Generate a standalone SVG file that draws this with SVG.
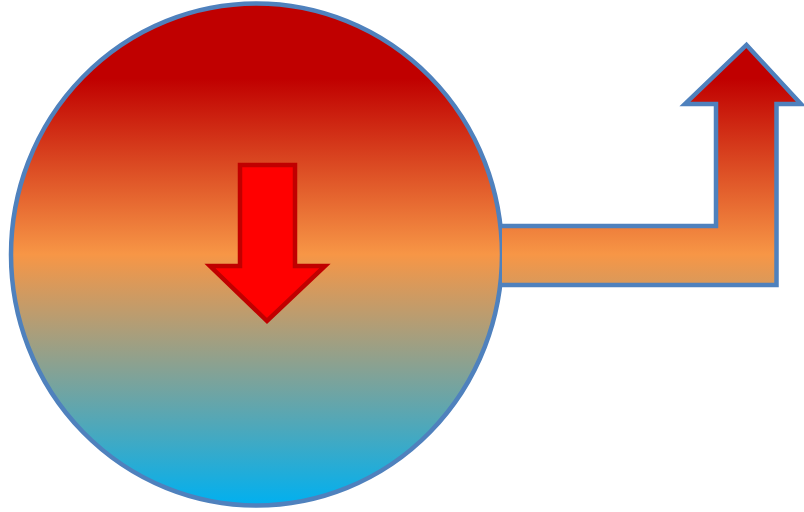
<svg xmlns="http://www.w3.org/2000/svg" width="804" height="512" viewBox="0 0 804 512">
<defs>
<linearGradient id="g" gradientUnits="userSpaceOnUse" x1="0" y1="3" x2="0" y2="506">
<stop offset="0.15" stop-color="#C00000"/>
<stop offset="0.5" stop-color="#F79646"/>
<stop offset="1" stop-color="#00B0F0"/>
</linearGradient>
</defs>
<style>
.shape{fill:url(#g);stroke:#4F81BD;stroke-width:4.5}
.down{fill:#FF0000;stroke:#C00000;stroke-width:4.5}
</style>
<g id="circle">
<ellipse class="shape" cx="256.5" cy="254.5" rx="245.5" ry="251"/>
</g>
<g id="connectors">
<path class="shape" d="M502,226 L716,226 L716,104 L685,104 L746.5,45 L801,104 L776.5,104 L776.5,285 L502,285"/>
</g>
<g id="down-arrow">
<path class="down" d="M240,165 L295,165 L295,266 L325,266 L267,321 L210,266 L240,266 Z"/>
</g>
</svg>
